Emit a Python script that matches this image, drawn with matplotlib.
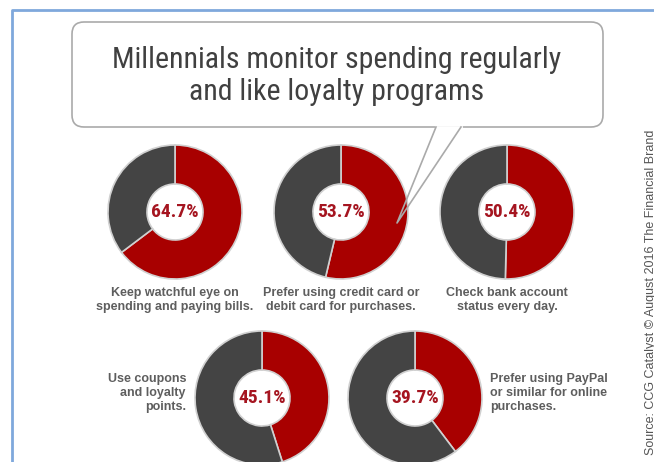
import matplotlib
matplotlib.use("Agg")
from matplotlib import pyplot as plt
from matplotlib import font_manager as fm
from matplotlib.patches import FancyBboxPatch

# data
percents = [64.7, 53.7, 50.4, 45.1, 39.7]
labels = ["Keep watchful eye on\nspending and paying bills.",
          "Prefer using credit card or\ndebit card for purchases.",
          "Check bank account\nstatus every day.",
          "Use coupons\nand loyalty\npoints.",
          "Prefer using PayPal\nor similar for online\npurchases."]
title = "Millennials monitor spending regularly\nand like loyalty programs"
source = "Source: CCG Catalyst \u00a9 August 2016 The Financial Brand"

RED = '#a80000'
GRAY = '#444444'
TXT = '#5e5e5e'

installed = {f.name for f in fm.fontManager.ttflist}
def pick(cands, default):
    for c in cands:
        if c in installed:
            return c
    return default

NARROW = pick(['Roboto Condensed', 'Archivo Narrow', 'PT Sans Narrow',
               'Fira Sans Condensed', 'Barlow Condensed', 'Liberation Sans Narrow'],
              'DejaVu Sans')

W, H = 654, 462
def Y(y):
    return H - y

fig = plt.figure(figsize=(6.54, 4.62), dpi=100)
ax = fig.add_axes([0, 0, 1, 1])

# donut positions in pixels
centers = [(175, 212), (341, 212), (507, 212), (262, 398), (415, 398)]
R = 67
for (cx, cy), p in zip(centers, percents):
    ax.pie([p, 100 - p], colors=[RED, GRAY], startangle=90, counterclock=False,
           center=(cx, Y(cy)), radius=R,
           wedgeprops=dict(width=R - 28, edgecolor='#d0d0d0', linewidth=1.2))
    ax.text(cx, Y(cy), f"{p:.1f}%", ha='center', va='center', color='#a51520',
            fontsize=14, fontweight='bold', family=NARROW)

# labels
lab_kw = dict(color=TXT, fontsize=9, fontweight='bold', family='Liberation Sans',
              linespacing=1.25, va='center')
for i in range(3):
    cx, cy = centers[i]
    ax.text(cx, Y(300), labels[i], ha='center', **lab_kw)
ax.text(186, Y(393), labels[3], ha='right', **lab_kw)
ax.text(490, Y(393), labels[4], ha='left', **lab_kw)

# speech bubble
bubble = FancyBboxPatch((72, Y(127)), 531, 105, boxstyle="round,pad=0,rounding_size=12",
                        facecolor='white', edgecolor='#aaaaaa', linewidth=1.2, zorder=3)
ax.add_patch(bubble)
ax.plot([436, 461], [Y(127), Y(127)], color='white', lw=2, zorder=4)
ax.plot([436, 397, 461], [Y(127), Y(223), Y(127)], color='#aaaaaa', lw=1.2, zorder=4)
ax.text(337, Y(76), title, ha='center', va='center', color='#404040',
        fontsize=21.5, family=NARROW, linespacing=1.15, zorder=5)

# source
ax.text(651, Y(130), source, rotation=90, rotation_mode='anchor', ha='right',
        va='center', color='#555555', fontsize=9, family='Liberation Sans')

# blue frame
ax.plot([12, 12, W], [0, Y(10), Y(10)], color='#7fa8dc', lw=2, zorder=6)

ax.set_xlim(0, W)
ax.set_ylim(0, H)
ax.set_aspect('auto')
ax.axis('off')

fig.savefig('out.png', dpi=100)
